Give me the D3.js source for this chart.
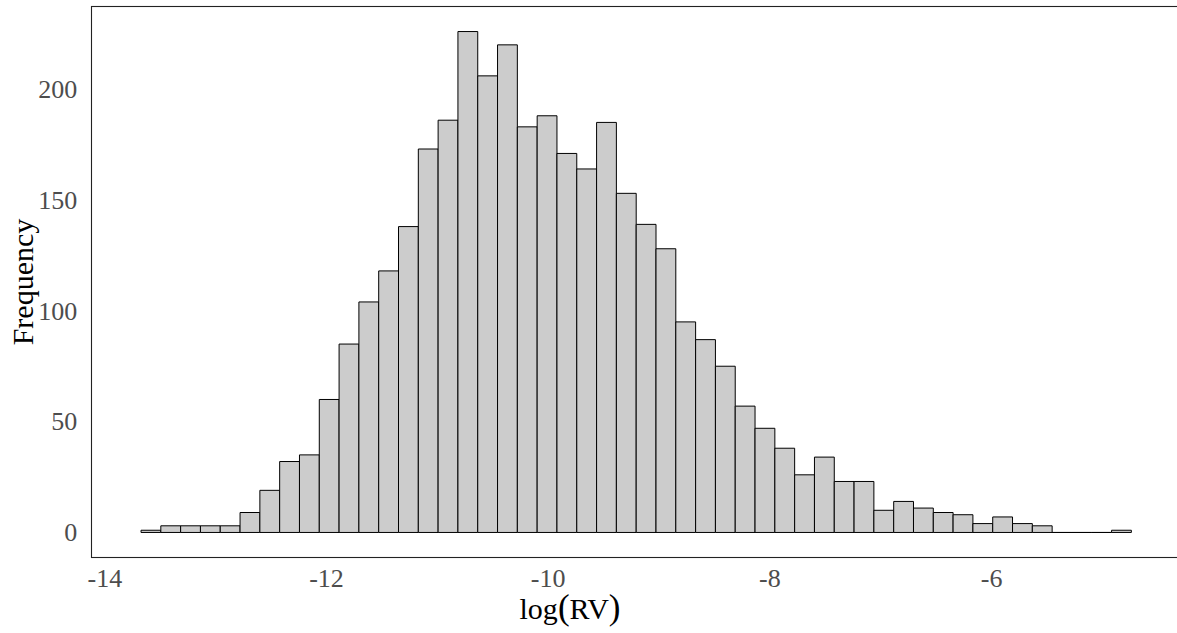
<!DOCTYPE html>
<html>
<head>
<meta charset="utf-8">
<script src="https://cdn.jsdelivr.net/npm/d3@7"></script>
<style>
  html, body { margin: 0; padding: 0; background: #fff; }
  svg { display: block; }
  .tick text { font-family: "Liberation Serif", "DejaVu Serif", serif; }
</style>
</head>
<body>
<div id="chart"></div>
<script>
// histogram of log(RV): 50 bins
const binStart = -13.669;
const binWidth = 0.1787;
const counts = [
  1, 3, 3, 3, 3, 9, 19, 32, 35, 60,
  85, 104, 118, 138, 173, 186, 226, 206, 220, 183,
  188, 171, 164, 185, 153, 139, 128, 95, 87, 75,
  57, 47, 38, 26, 34, 23, 23, 10, 14, 11,
  9, 8, 4, 7, 4, 3, 0, 0, 0, 1
];
const xTicks = [-14, -12, -10, -8, -6];
const yTicks = [0, 50, 100, 150, 200];

function drawHistogram(container) {
  const W = 1177, H = 633;
  const panel = { left: 91.5, top: 6.5, bottom: 557.5 };

  const bins = counts.map((c, i) => ({
    x0: binStart + i * binWidth,
    x1: binStart + (i + 1) * binWidth,
    n: c
  }));

  // ggplot-style 5% expansion
  const xMin = bins[0].x0, xMax = bins[bins.length - 1].x1;
  const xPad = (xMax - xMin) * 0.05;
  const yMax = d3.max(counts);
  const yPad = yMax * 0.05;

  const pxPerUnit = 110.84;
  const x = d3.scaleLinear()
    .domain([xMin - xPad, xMax + xPad])
    .range([panel.left, panel.left + (xMax - xMin + 2 * xPad) * pxPerUnit]);
  const y = d3.scaleLinear()
    .domain([-yPad, yMax + yPad])
    .range([panel.bottom, panel.top]);

  const svg = d3.select(container).append("svg")
    .attr("width", W)
    .attr("height", H);

  // paths instead of rects so empty bins still show their outline
  svg.append("g")
    .selectAll("path")
    .data(bins)
    .join("path")
      .attr("d", d => {
        const l = x(d.x0), r = x(d.x1), t = y(d.n), b = y(0);
        return `M${l},${b}L${l},${t}L${r},${t}L${r},${b}Z`;
      })
      .attr("fill", "#cccccc")
      .attr("stroke", "#000")
      .attr("stroke-width", 1);

  // panel border (right side falls outside the picture)
  svg.append("rect")
    .attr("x", panel.left)
    .attr("y", panel.top)
    .attr("width", x.range()[1] - panel.left)
    .attr("height", panel.bottom - panel.top)
    .attr("fill", "none")
    .attr("stroke", "#222")
    .attr("stroke-width", 1.1);

  const yAxis = svg.append("g")
    .attr("transform", `translate(${panel.left},0)`)
    .call(d3.axisLeft(y).tickValues(yTicks).tickSize(0).tickPadding(14.2));
  const xAxis = svg.append("g")
    .attr("transform", `translate(0,${panel.bottom})`)
    .call(d3.axisBottom(x).tickValues(xTicks).tickSize(0).tickPadding(11.5)
      .tickFormat(d => String(d)));

  [xAxis, yAxis].forEach(a => {
    a.select(".domain").remove();
    a.selectAll("text")
      .attr("fill", "#4d4d4d")
      .style("font-size", "26px");
  });

  // x title, plotmath-like with taller parentheses
  const xt = svg.append("text")
    .attr("x", 570)
    .attr("y", 619)
    .attr("text-anchor", "middle")
    .style("font-family", "'Liberation Serif', serif")
    .style("font-size", "30px")
    .attr("fill", "#000");
  xt.append("tspan").text("log");
  xt.append("tspan").style("font-size", "35px").text("(");
  xt.append("tspan").text("RV");
  xt.append("tspan").style("font-size", "35px").text(")");

  svg.append("text")
    .attr("transform", `translate(33,${(panel.top + panel.bottom) / 2}) rotate(-90)`)
    .attr("text-anchor", "middle")
    .style("font-family", "'Liberation Serif', serif")
    .style("font-size", "30px")
    .attr("fill", "#000")
    .text("Frequency");
}

drawHistogram(document.getElementById("chart"));
</script>
</body>
</html>
